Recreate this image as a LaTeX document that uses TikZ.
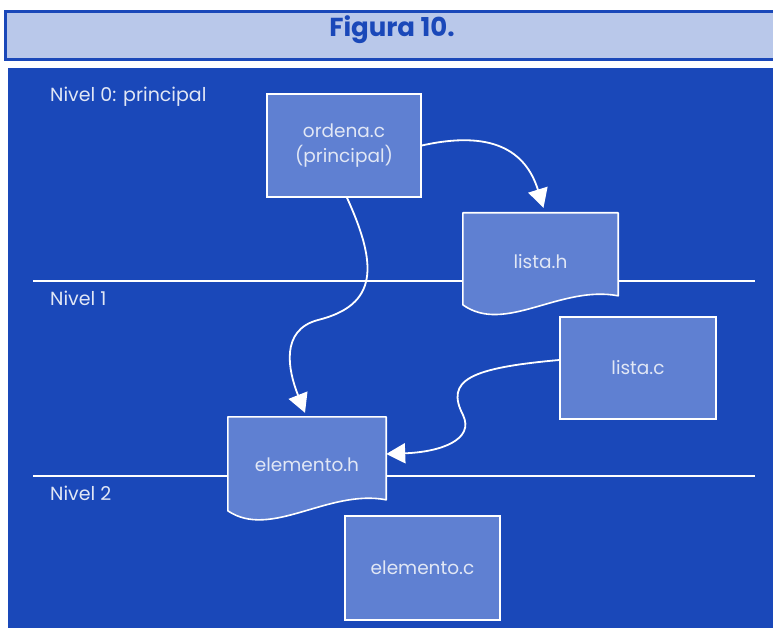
\documentclass[tikz,border=0pt]{standalone}
\usepackage{fontspec}
\setmainfont{Poppins}
\usetikzlibrary{arrows.meta,calc}
\definecolor{bgblue}{HTML}{1A48B9}
\definecolor{boxblue}{HTML}{5F80D2}
\definecolor{titlefill}{HTML}{B9C8EA}
\definecolor{paletext}{HTML}{E1E7F5}
\tikzset{
  filebox/.style={draw=white, line width=1.6pt, fill=boxblue, text=paletext,
    font=\fontsize{18.5}{25}\selectfont, align=center, inner sep=0pt},
  docnode/.style={inner sep=0pt, text=paletext, font=\fontsize{18.5}{25}\selectfont},
  docbox/.style={draw=white, line width=1.6pt, fill=boxblue, line join=round},
  levelline/.style={draw=white, line width=1.6pt},
  levellabel/.style={text=paletext, font=\fontsize{19}{22}\selectfont, anchor=base west, inner sep=0pt},
  link/.style={draw=white, line width=1.8pt, -{Triangle[length=19pt,width=20pt]}},
}
\begin{document}
\begin{tikzpicture}[x=1pt,y=-1pt]
\useasboundingbox (0,0) rectangle (773,628);
% title bar
\fill[titlefill] (5.5,11.5) rectangle (773,59.5);
\draw[bgblue, line width=3pt] (773,11.5) -- (5.5,11.5) -- (5.5,59.5) -- (773,59.5);
\node[text=bgblue, font=\fontsize{26}{30}\selectfont\bfseries, anchor=base, inner sep=0pt] (title) at (392,37) {Figura 10.};
% panel
\fill[bgblue] (8,68) rectangle (773,628);
% level separators
\draw[levelline] (33,281) -- (755,281);
\draw[levelline] (33,476) -- (755,476);
\node[levellabel] (n0) at (50,102) {Nivel 0: principal};
\node[levellabel] (n1) at (50,305) {Nivel 1};
\node[levellabel] (n2) at (50,500) {Nivel 2};
% plain source files
\node[filebox, minimum width=154pt, minimum height=103pt] (ordena) at (344,145.5) {ordena.c\\(principal)};
\node[filebox, minimum width=156pt, minimum height=102pt] (listac) at (638,368) {lista.c};
\node[filebox, minimum width=155pt, minimum height=104pt] (elementoc) at (422.5,568) {elemento.c};
% header files (document shape)
\node[docnode, minimum width=155pt, minimum height=97pt] (listah) at (540.5,261.5) {};
\draw[docbox] (listah.north west) -- (listah.north east) -- ($(listah.north east)+(0,83)$)
  .. controls ($(listah.north west)+(97,72)$) and ($(listah.north west)+(42,122)$) .. ($(listah.north west)+(0,92)$) -- cycle;
\node[docnode] at (listah.center) {lista.h};
\node[docnode, minimum width=158pt, minimum height=96pt] (elementoh) at (307,465) {};
\draw[docbox] (elementoh.north west) -- (elementoh.north east) -- ($(elementoh.north east)+(0,83)$)
  .. controls ($(elementoh.north west)+(100,72)$) and ($(elementoh.north west)+(43,123)$) .. ($(elementoh.north west)+(0,94)$) -- cycle;
\node[docnode] at (elementoh.center) {elemento.h};
% dependencies
\draw[link] (ordena.east) .. controls +(69,-15.5) and +(-18,-58) .. ([xshift=3pt,yshift=5pt]listah.north);
\draw[link] ([xshift=3pt]ordena.south) .. controls +(31,68) and (378,305) .. (318,320)
  .. controls (280,330) and (288,370) .. ([xshift=-2pt,yshift=4pt]elementoh.north);
\draw[link] ([yshift=8pt]listac.west) .. controls (470,368) and (445,380) .. (463,415)
  .. controls (475,440) and (440,452) .. ([yshift=11pt]elementoh.east);
\end{tikzpicture}
\end{document}
